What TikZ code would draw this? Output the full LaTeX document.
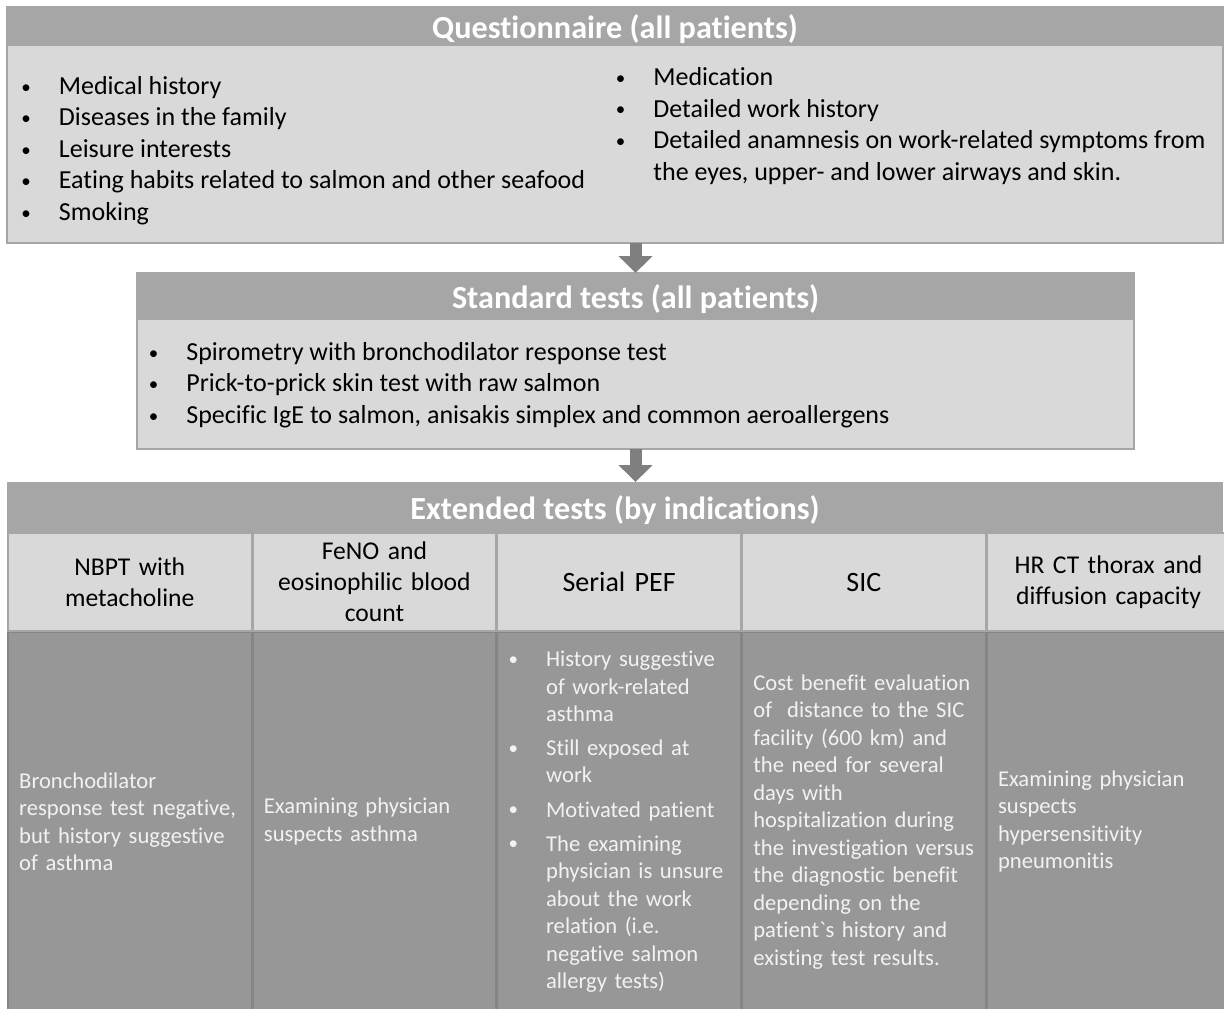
\documentclass[tikz,border=0pt]{standalone}
\usepackage{fontspec}
\setmainfont{Carlito}[Ligatures=NoCommon]
\usetikzlibrary{arrows.meta}
\definecolor{bandgrey}{HTML}{A6A6A6}
\definecolor{boxlight}{HTML}{D9D9D9}
\definecolor{boxdark}{HTML}{979797}
\definecolor{edgegrey}{HTML}{A6A6A6}
\definecolor{celledge}{HTML}{858585}
\definecolor{arrowgrey}{HTML}{7F7F7F}
\definecolor{paletext}{HTML}{F2F2F2}
\newcommand{\blt}{\makebox[18.75pt][l]{\raisebox{0.6pt}{\fontsize{9.5}{9.5}\selectfont\textbullet}}}
\newcommand{\ind}{\hspace*{18.75pt}}
\newcommand{\nohyph}{\hyphenpenalty=10000\relax}
\begin{document}
\begin{tikzpicture}[x=0.5pt,y=-0.5pt]
\tikzstyle{band} = [fill=bandgrey, text=white, font=\bfseries\fontsize{16.1}{19}\selectfont, text height=12pt, text depth=0pt, inner sep=0, outer sep=0, anchor=north]
\tikzstyle{panel} = [fill=boxlight, draw=edgegrey, line width=0.75pt, inner sep=0, outer sep=0]
\tikzstyle{list} = [anchor=west, align=left, inner sep=0, font=\fontsize{13}{15.75}\selectfont]
\tikzstyle{head} = [fill=boxlight, draw=edgegrey, line width=0.75pt, text width=110.5pt, inner xsep=5.55pt, inner ysep=0, outer sep=0, minimum height=49pt, align=center, anchor=center, font=\fontsize{12.8}{15.5}\selectfont]
\tikzstyle{cell} = [fill=boxdark, draw=celledge, line width=0.75pt, text=paletext, text width=110.5pt, inner xsep=5.55pt, inner ysep=0, outer sep=0, minimum height=189pt, align=left, anchor=center, font=\fontsize{11.3}{13.75}\selectfont\nohyph]
\tikzstyle{blockarrow} = [draw=arrowgrey, line width=6pt, -{Triangle[width=16.5pt,length=8.5pt]}]
\useasboundingbox (0,0) rectangle (1224,1008);

\node (Questionnaire) [panel, minimum width=608pt, minimum height=118pt] at (615,125) {};
\node (QuestionnaireTitle) [band, minimum width=608pt, minimum height=19.5pt] at (Questionnaire.north) {Questionnaire (all patients)};
\node (History) [list] at (21,150.5) {\blt Medical history\\ \blt Diseases in the family\\ \blt Leisure interests\\ \blt Eating habits related to salmon and other seafood\\ \blt Smoking};
\node (WorkHistory) [list] at (615.5,126) {\blt Medication\\ \blt Detailed work history\\ \blt Detailed anamnesis on work-related symptoms from\\ \ind the eyes, upper- and lower airways and skin.};

\node (StandardTests) [panel, minimum width=498.5pt, minimum height=88pt] at (635.5,361) {};
\node (StandardTitle) [band, minimum width=498.5pt, minimum height=23.5pt] at (StandardTests.north) {Standard tests (all patients)};
\node (StandardList) [list] at (148.5,385) {\blt Spirometry with bronchodilator response test\\ \blt Prick-to-prick skin test with raw salmon\\ \blt Specific IgE to salmon, anisakis simplex and common aeroallergens};

\node (Extended) [band, minimum width=608pt, minimum height=25pt] at (615,482) {Extended tests (by indications)};
\matrix (ExtendedTable) [anchor=north west, inner sep=0, column sep=0, row sep=0] at (Extended.south west)
{
\node (NBPT) [head] {NBPT with\\metacholine}; &
\node (FeNO) [head] {FeNO and\\eosinophilic blood\\count}; &
\node (SerialPEF) [head, font=\fontsize{14}{16}\selectfont] {Serial PEF}; &
\node (SIC) [head, font=\fontsize{14}{16}\selectfont] {SIC}; &
\node (HRCT) [head] {HR CT thorax and\\diffusion capacity}; \\
\node (NBPTWhen) [cell] {Bronchodilator\\response test negative,\\but history suggestive\\of asthma}; &
\node (FeNOWhen) [cell] {Examining physician\\suspects asthma}; &
\node (SerialPEFWhen) [cell] {\blt History suggestive\\ \ind of work-related\\ \ind asthma\\[3.25pt] \blt Still exposed at\\ \ind work\\[3.25pt] \blt Motivated patient\\[3.25pt] \blt The examining\\ \ind physician is unsure\\ \ind about the work\\ \ind relation (i.e.\\ \ind negative salmon\\ \ind allergy tests)}; &
\node (SICWhen) [cell] {Cost benefit evaluation\\of \ distance to the SIC\\facility (600 km) and\\the need for several\\days with\\hospitalization during\\the investigation versus\\the diagnostic benefit\\depending on the\\patient\textasciigrave s history and\\existing test results.}; &
\node (HRCTWhen) [cell] {Examining physician\\suspects\\hypersensitivity\\pneumonitis}; \\
};

\draw [blockarrow] (StandardTests.north |- Questionnaire.south) -- (StandardTests.north);
\draw [blockarrow] (StandardTests.south) -- (StandardTests.south |- Extended.north);
\end{tikzpicture}
\end{document}
